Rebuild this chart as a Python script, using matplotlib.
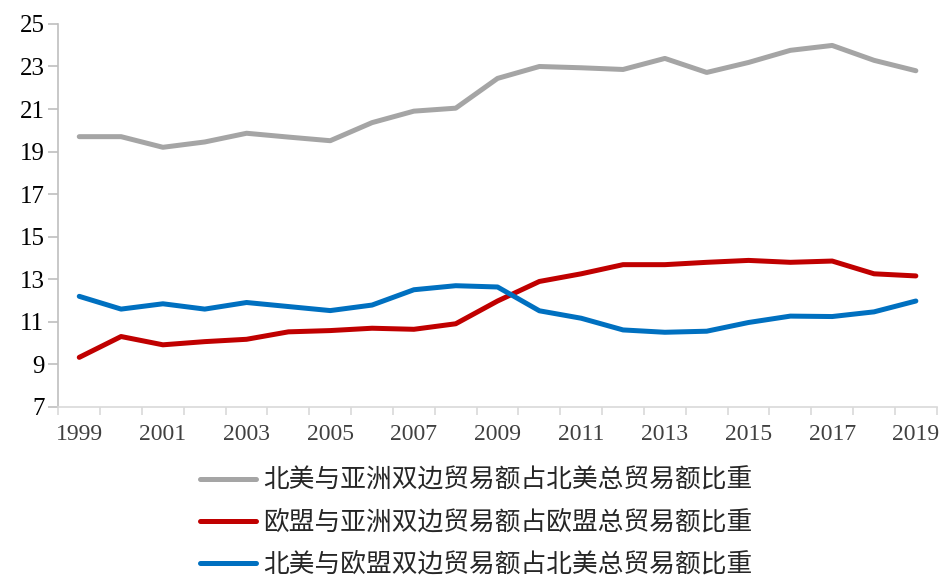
import matplotlib.pyplot as plt

plt.rcParams['font.family'] = ['Liberation Serif', 'DejaVu Serif']

years = list(range(1999, 2020))
tick_labels = [str(y) if (y - 1999) % 2 == 0 else '' for y in years]

na_asia = [19.70, 19.70, 19.20, 19.45, 19.86, 19.68, 19.51, 20.36, 20.90, 21.04,
           22.44, 23.00, 22.94, 22.86, 23.38, 22.72, 23.19, 23.76, 23.99, 23.29, 22.80]
eu_asia = [9.32, 10.30, 9.91, 10.06, 10.17, 10.52, 10.58, 10.69, 10.64, 10.90,
           11.97, 12.89, 13.25, 13.68, 13.68, 13.79, 13.88, 13.79, 13.85, 13.25, 13.15]
na_eu = [12.19, 11.59, 11.84, 11.59, 11.90, 11.71, 11.52, 11.78, 12.50, 12.69,
         12.63, 11.51, 11.16, 10.61, 10.50, 10.55, 10.96, 11.26, 11.24, 11.46, 11.97]

labels = ['北美与亚洲双边贸易额占北美总贸易额比重',
          '欧盟与亚洲双边贸易额占欧盟总贸易额比重',
          '北美与欧盟双边贸易额占北美总贸易额比重']
colors = ['#A5A5A5', '#C00000', '#0070C0']

fig = plt.figure(figsize=(9.41, 5.79), dpi=100)
ax = fig.add_axes([0.062, 0.2976, 0.9335, 0.661])

x = list(range(len(years)))
for vals, lab, c in zip([na_asia, eu_asia, na_eu], labels, colors):
    ax.plot(x, vals, color=c, lw=3.6, label=lab, solid_capstyle='round')

ax.set_xlim(-0.5, len(years) - 0.5)
ax.set_ylim(7, 25)
ax.set_yticks(range(7, 26, 2))
ax.set_xticks(x)
ax.set_xticklabels(tick_labels)
ax.set_xticks([i - 0.5 for i in range(len(years) + 1)], minor=True)
ax.tick_params(axis='x', which='major', length=0, labelsize=17, pad=12.5,
               labelcolor='#404040')
ax.tick_params(axis='x', which='minor', length=6, color='#D9D9D9', width=1.2)
ax.tick_params(axis='y', length=7, color='#BFBFBF', width=1.2, labelsize=18, pad=3)

for s in ['top', 'right']:
    ax.spines[s].set_visible(False)
ax.spines['left'].set_color('#BFBFBF')
ax.spines['left'].set_linewidth(1.2)
ax.spines['bottom'].set_color('#D9D9D9')
ax.spines['bottom'].set_linewidth(1.2)

leg = fig.legend(loc='upper left', bbox_to_anchor=(0.2125, 0.192), frameon=False,
                 prop={'family': ['Noto Sans CJK SC', 'DejaVu Sans'], 'size': 18.5},
                 handlelength=2.2, handletextpad=0.25, labelspacing=0.62,
                 borderpad=0, borderaxespad=0)
for t in leg.get_texts():
    t.set_color('#262626')

fig.savefig('out.png', dpi=100)
